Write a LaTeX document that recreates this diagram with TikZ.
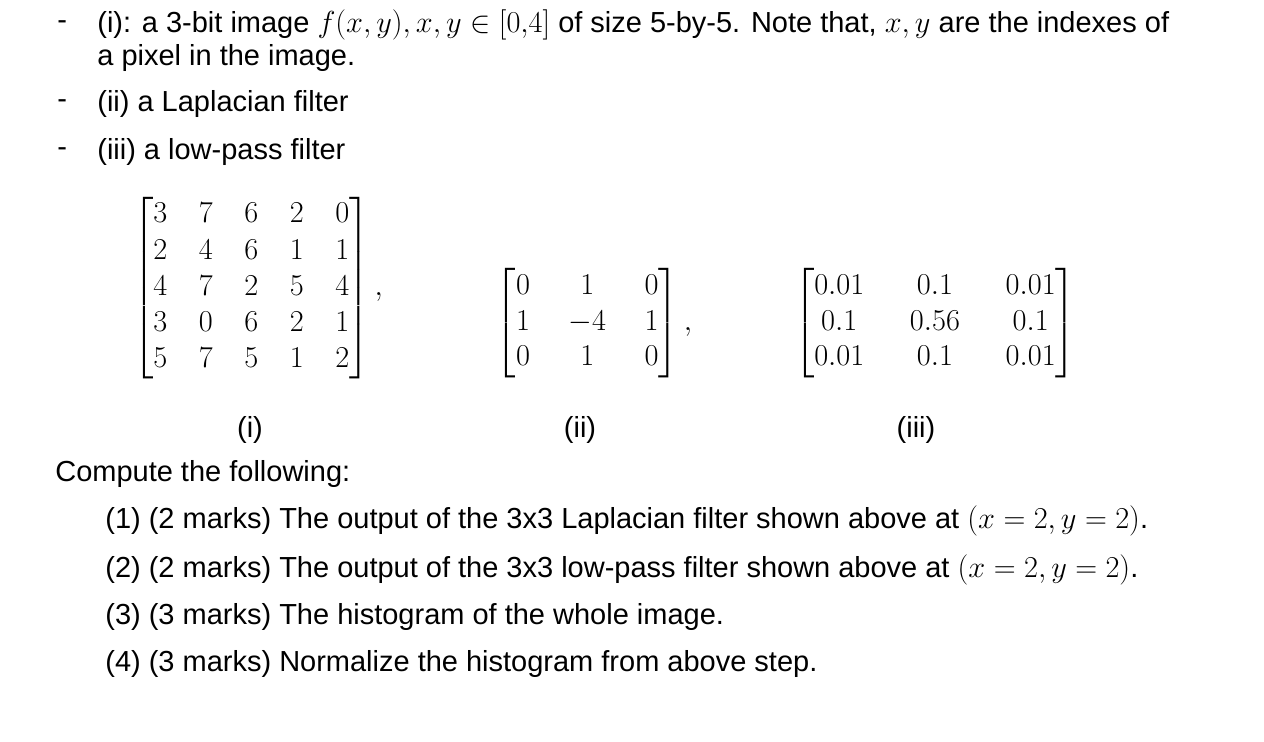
\documentclass[tikz,border=0pt]{standalone}
\usepackage{amsmath}
\usepackage{fontspec}
\setmainfont{Liberation Sans}
\begin{document}
\begin{tikzpicture}[x=0.02cm,y=-0.02cm,
  txt/.style={anchor=west,inner sep=0pt,font=\fontsize{16.5}{19}\selectfont},
  mat/.style={inner sep=0pt,font=\fontsize{17.5}{21}\selectfont}]
\useasboundingbox (0,0) rectangle (1264,742);
\node[txt] (d1) at (57,25) {-};
\node[txt] (t1) at (97,25) {(i): a 3-bit image $f(x,y), x,y\in[0{,}4]$ of size 5-by-5. Note that, $x,y$ are the indexes of};
\node[txt] (t1b) at (97,58) {a pixel in the image.};
\node[txt] (d2) at (57,104) {-};
\node[txt] (t2) at (97,104) {(ii) a Laplacian filter};
\node[txt] (d3) at (57,152) {-};
\node[txt] (t3) at (97,152) {(iii) a low-pass filter};
\node[mat] (m1) at (258,288) {$\renewcommand{\arraystretch}{0.98}\setlength{\arraycolsep}{9pt}\begin{bmatrix}3&7&6&2&0\\2&4&6&1&1\\4&7&2&5&4\\3&0&6&2&1\\5&7&5&1&2\end{bmatrix},$};
\node[mat] (m2) at (594,323) {$\renewcommand{\arraystretch}{0.95}\setlength{\arraycolsep}{11pt}\begin{bmatrix}0&1&0\\1&-4&1\\0&1&0\end{bmatrix},$};
\node[mat] (m3) at (935,323) {$\renewcommand{\arraystretch}{0.95}\setlength{\arraycolsep}{13pt}\begin{bmatrix}0.01&0.1&0.01\\0.1&0.56&0.1\\0.01&0.1&0.01\end{bmatrix}$};
\node[txt,anchor=center] (l1) at (250,430) {(i)};
\node[txt,anchor=center] (l2) at (580,430) {(ii)};
\node[txt,anchor=center] (l3) at (916,430) {(iii)};
\node[txt] (c) at (55,474) {Compute the following:};
\node[txt] (q1) at (105,521) {(1) (2 marks) The output of the 3x3 Laplacian filter shown above at $(x=2,y=2)$.};
\node[txt] (q2) at (105,570) {(2) (2 marks) The output of the 3x3 low-pass filter shown above at $(x=2,y=2)$.};
\node[txt] (q3) at (105,617) {(3) (3 marks) The histogram of the whole image.};
\node[txt] (q4) at (105,664) {(4) (3 marks) Normalize the histogram from above step.};
\end{tikzpicture}
\end{document}
